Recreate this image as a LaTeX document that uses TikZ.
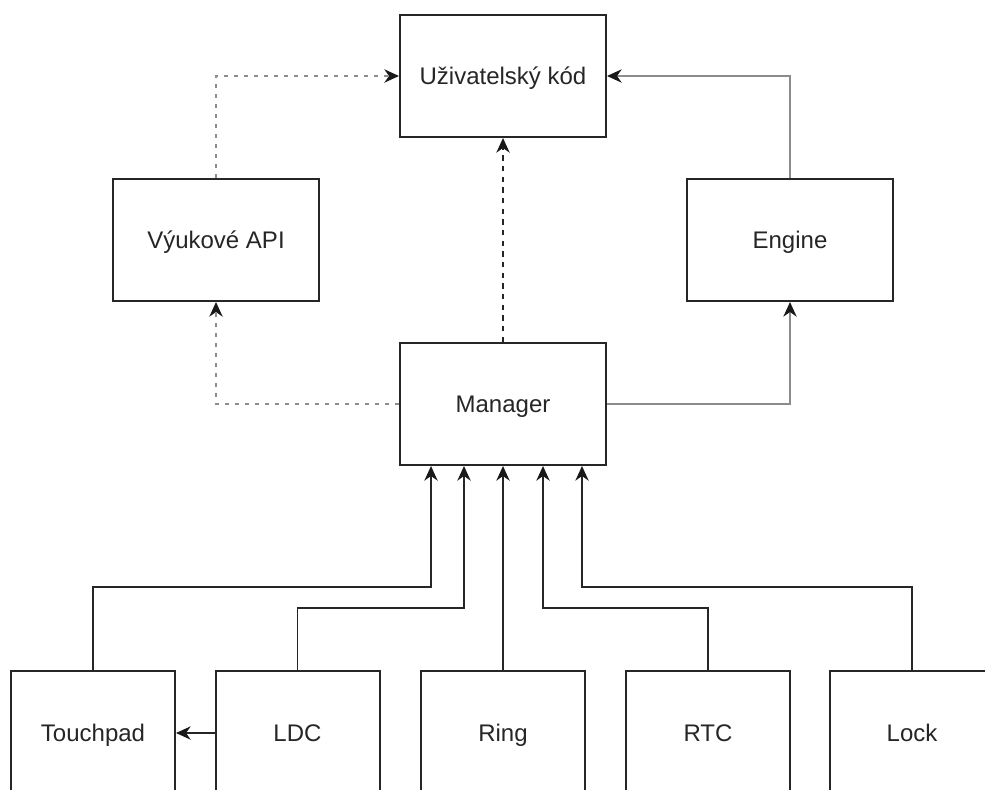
\documentclass[tikz,border=0pt]{standalone}
\usepackage{fontspec}
\setmainfont{Liberation Sans}
\usepackage{xcolor}
\usepackage{tikz}
\usetikzlibrary{arrows.meta, positioning, calc}

\begin{document}
\begin{tikzpicture}[
          x=0.75pt, y=-0.75pt,
          blok/.style={rectangle, draw=black!85, line width=1.5pt, fill=white, text=black!85, font=\fontsize{18}{22}\selectfont, text height=13pt, text depth=0pt, minimum width=154.5pt, minimum height=91.5pt, inner sep=0pt},
          modul/.style={blok, minimum width=123pt, minimum height=93pt},
          sipka/.style={draw=black!85, line width=1.1pt, -{Stealth[length=11pt, width=10pt, inset=3.5pt, color=black!90]}},
          sedasipka/.style={sipka, draw=black!45},
          tecky/.style={sipka, draw=black!45, dash pattern=on 3pt off 4.5pt},
          carky/.style={sipka, dash pattern=on 4pt off 4pt}
        ]
          \clip (0,0) rectangle (985,789);
          \fill[white] (0,0) rectangle (985,789);

          % Top level
          \node[blok] (kod) at (503, 76) {Uživatelský kód};
          \node[blok] (vyuka) at (216, 240) {Výukové API};
          \node[blok] (engine) at (790, 240) {Engine};
          \node[blok] (manager) at (503, 404) {Manager};

          % Drivers
          \node[modul] (touchpad) at (93, 733) {Touchpad};
          \node[modul] (ldc) at (297.5, 733) {LDC};
          \node[modul] (ring) at (503, 733) {Ring};
          \node[modul] (rtc) at (708, 733) {RTC};
          \node[modul] (lock) at (912, 733) {Lock};

          % Drivers -> Manager
          \draw[sipka] (touchpad.north) -- ++(0,-83) -| ([xshift=-54pt]manager.south);
          \draw[sipka] (ldc.north) -- ++(0,-62) -| ([xshift=-29.25pt]manager.south);
          \draw[sipka] (ring.north) -- (manager.south);
          \draw[sipka] (rtc.north) -- ++(0,-62) -| ([xshift=30pt]manager.south);
          \draw[sipka] (lock.north) -- ++(0,-83) -| ([xshift=59.25pt]manager.south);
          \draw[sipka] (ldc.west) -- (touchpad.east);

          % Manager -> upper layers
          \draw[carky] (manager.north) -- (kod.south);
          \draw[tecky] (manager.west) -| (vyuka.south);
          \draw[tecky] (vyuka.north) |- (kod.west);
          \draw[sedasipka] (manager.east) -| (engine.south);
          \draw[sedasipka] (engine.north) |- (kod.east);
        \end{tikzpicture}
\end{document}
